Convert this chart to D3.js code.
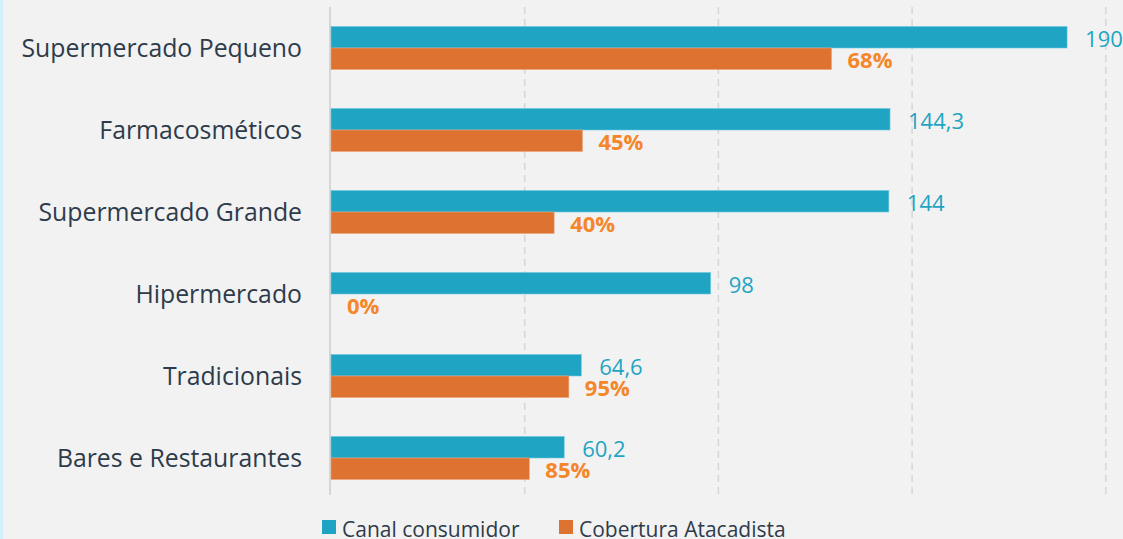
<!DOCTYPE html>
<html>
<head>
<meta charset="utf-8">
<script src="https://cdn.jsdelivr.net/npm/d3@7"></script>
<style>
  html, body { margin: 0; padding: 0; background: #f2f2f2; }
  #wrapper { width: 1123px; height: 539px; overflow: hidden; border-left: 3px solid #d3f1fb; box-sizing: border-box; }
  text { font-family: "Open Sans", sans-serif; }
</style>
</head>
<body>
<div id="wrapper"></div>
<script>
const categories = ["Supermercado Pequeno", "Farmacosméticos", "Supermercado Grande", "Hipermercado", "Tradicionais", "Bares e Restaurantes"];
const canalValues = [190, 144.3, 144, 98, 64.6, 60.2];
const canalLabels = ["190", "144,3", "144", "98", "64,6", "60,2"];
const coberturaValues = [129.2, 64.9, 57.6, 0, 61.4, 51.2];
const coberturaLabels = ["68%", "45%", "40%", "0%", "95%", "85%"];
const xTicks = [0, 50, 100, 150, 200];
const seriesNames = ["Canal consumidor", "Cobertura Atacadista"];

function buildPlot() {
    const dimension = {
        width: 1120,
        height: 539,
        margin: { top: 7, left: 326, bottom: 40, right: 13 }
    };
    dimension.boundedWidth = dimension.width - dimension.margin.left - dimension.margin.right;
    dimension.boundedHeight = dimension.height - dimension.margin.top - dimension.margin.bottom;

    const svg = d3.select("#wrapper").append("svg")
        .attr("width", dimension.width)
        .attr("height", dimension.height);

    const bounded = svg.append("g")
        .attr("transform", `translate(${dimension.margin.left},${dimension.margin.top})`);

    const xScaler = d3.scaleLinear()
        .domain([0, 200])
        .range([2, 2 + 200 * 3.874]);

    const yScaler = d3.scaleBand()
        .domain(categories)
        .range([0, 492])
        .paddingInner(0.4756)
        .paddingOuter(0.2378);

    const subScaler = d3.scaleBand()
        .domain(seriesNames)
        .range([0, yScaler.bandwidth()]);

    // gridlines
    bounded.selectAll(".grid")
        .data(xTicks.slice(1))
        .join("line")
        .attr("x1", d => xScaler(d))
        .attr("x2", d => xScaler(d))
        .attr("y1", 0)
        .attr("y2", 488)
        .attr("stroke", "#d6d6d6")
        .attr("stroke-width", 1.5)
        .attr("stroke-dasharray", "7,5");

    bounded.append("line")
        .attr("x1", xScaler(0) - 1)
        .attr("x2", xScaler(0) - 1)
        .attr("y1", 0)
        .attr("y2", 488)
        .attr("stroke", "#d6d6d6")
        .attr("stroke-width", 2);

    // category labels
    const yAxisGenerator = d3.axisLeft(yScaler).tickSize(0).tickPadding(27);
    const yAxis = bounded.append("g").call(yAxisGenerator);
    yAxis.select(".domain").remove();
    yAxis.selectAll("text")
        .attr("font-size", 24.8)
        .attr("fill", "#2e3b4b")
        .attr("dy", "0.36em");

    const rows = categories.map((c, i) => ({
        cat: c,
        canal: canalValues[i], canalLabel: canalLabels[i],
        cob: coberturaValues[i], cobLabel: coberturaLabels[i]
    }));

    const group = bounded.selectAll(".row")
        .data(rows)
        .join("g")
        .attr("transform", d => `translate(0,${yScaler(d.cat)})`);

    group.append("rect")
        .attr("x", xScaler(0))
        .attr("y", subScaler(seriesNames[0]))
        .attr("width", d => xScaler(d.canal) - xScaler(0))
        .attr("height", subScaler.bandwidth())
        .attr("fill", "#1fa5c3")
        .attr("stroke", "#6cc6dc")
        .attr("stroke-width", 0.6);

    group.append("rect")
        .attr("x", xScaler(0))
        .attr("y", subScaler(seriesNames[1]))
        .attr("width", d => xScaler(d.cob) - xScaler(0))
        .attr("height", subScaler.bandwidth())
        .attr("fill", "#de7230")
        .attr("stroke", "#eba27a")
        .attr("stroke-width", d => d.cob > 0 ? 0.6 : 0);

    group.append("text")
        .attr("x", d => xScaler(d.canal) + 18)
        .attr("y", subScaler(seriesNames[0]) + subScaler.bandwidth() / 2 + 2)
        .attr("dy", "0.35em")
        .attr("font-size", 22)
        .attr("fill", "#1fa5c3")
        .text(d => d.canalLabel);

    group.append("text")
        .attr("x", d => xScaler(d.cob) + 16)
        .attr("y", subScaler(seriesNames[1]) + subScaler.bandwidth() / 2 + 2)
        .attr("dy", "0.35em")
        .attr("font-size", 22)
        .attr("font-weight", "bold")
        .attr("fill", "#f5862a")
        .text(d => d.cobLabel);

    // legend
    const legendColors = ["#1fa5c3", "#de7230"];
    const legendX = [319, 556];
    const legend = svg.selectAll(".legend")
        .data(seriesNames)
        .join("g")
        .attr("transform", (d, i) => `translate(${legendX[i]},520)`);
    legend.append("rect")
        .attr("width", 14)
        .attr("height", 14)
        .attr("fill", (d, i) => legendColors[i]);
    legend.append("text")
        .attr("x", 20)
        .attr("y", 17)
        .attr("font-size", 21)
        .attr("fill", "#2e3b4b")
        .text(d => d);
}

buildPlot();
</script>
</body>
</html>
